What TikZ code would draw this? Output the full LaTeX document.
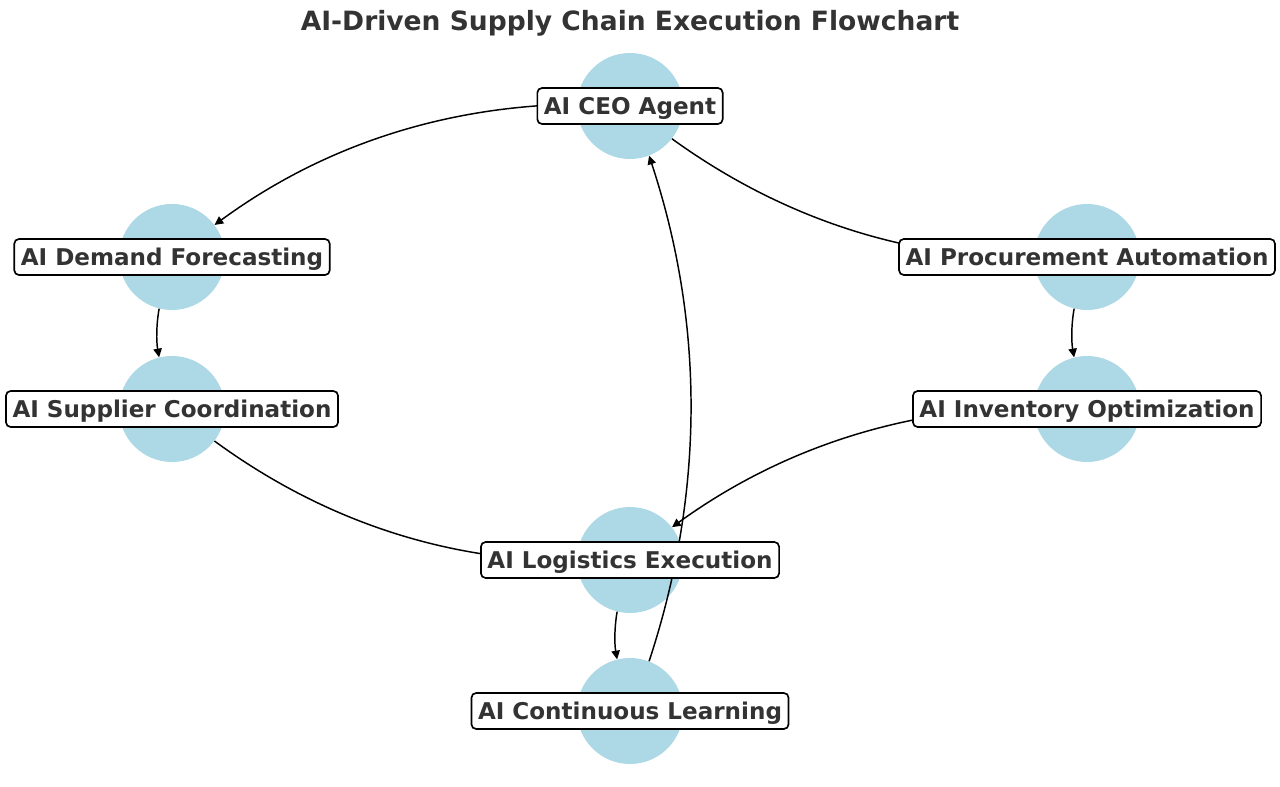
\documentclass[tikz,border=0pt]{standalone}
\usepackage{fontspec}
\setmainfont{DejaVu Sans}
\usetikzlibrary{arrows.meta}
\definecolor{nodeblue}{RGB}{173,216,230}
\definecolor{txt}{RGB}{51,51,51}
\tikzset{
  circ/.style={circle,fill=nodeblue,draw=none,minimum size=79.5pt,inner sep=0pt},
  lbl/.style={draw=black,fill=white,line width=1.25pt,rounded corners=3.5pt,
    font=\fontsize{17.3pt}{20pt}\selectfont\bfseries,text=txt,
    inner xsep=4.9pt,inner ysep=0pt,minimum height=27pt,
    text height=12.6pt,text depth=0pt},
  edge/.style={draw=black,line width=1.1pt,-{Triangle[length=6.5pt,width=6.3pt]}},
}
\begin{document}
\begin{tikzpicture}[x=0.75pt,y=-0.75pt]
\path[use as bounding box,fill=white] (0,0) rectangle (1280,787);
\node[font=\fontsize{19.9pt}{24pt}\selectfont\bfseries,text=txt] (title) at (630,23.5) {AI-Driven Supply Chain Execution Flowchart};
% circles
\node[circ] (ceo) at (630,106) {};
\node[circ] (dem) at (172,257) {};
\node[circ] (pro) at (1087,257) {};
\node[circ] (sup) at (172,409) {};
\node[circ] (inv) at (1087,409) {};
\node[circ] (log) at (630,560) {};
\node[circ] (lea) at (630,711) {};
% edges (arc3, rad=0.2, trimmed at circle borders)
\draw[edge] (ceo.178.5) .. controls (443.28,106.14) and (322.21,146.05) .. (dem.37.97);
\draw[edge] (ceo.-38.0) .. controls (779.85,216.81) and (900.62,256.71) .. (pro.181.4);
\draw[edge] (dem.-104.86) .. controls (156.26,324.74) and (156.26,341.26) .. (sup.104.86);
\draw[edge] (pro.-104.86) .. controls (1071.26,324.74) and (1071.26,341.26) .. (inv.104.86);
\draw[edge] (sup.-37.97) .. controls (322.2,519.94) and (443.27,559.85) .. (log.181.5);
\draw[edge] (inv.178.55) .. controls (900.63,409.27) and (779.86,449.17) .. (log.38.02);
\draw[edge] (log.-104.8) .. controls (614.38,627.41) and (614.38,643.59) .. (lea.104.8);
\draw[edge] (lea.69.84) .. controls (704.59,492.76) and (704.59,324.24) .. (ceo.-69.84);
% labels
\node[lbl] (lceo) at (ceo) {AI CEO Agent};
\node[lbl] (ldem) at (dem) {AI Demand Forecasting};
\node[lbl] (lpro) at (pro) {AI Procurement Automation};
\node[lbl] (lsup) at (sup) {AI Supplier Coordination};
\node[lbl] (linv) at (inv) {AI Inventory Optimization};
\node[lbl] (llog) at (log) {AI Logistics Execution};
\node[lbl] (llea) at (lea) {AI Continuous Learning};
\end{tikzpicture}
\end{document}
